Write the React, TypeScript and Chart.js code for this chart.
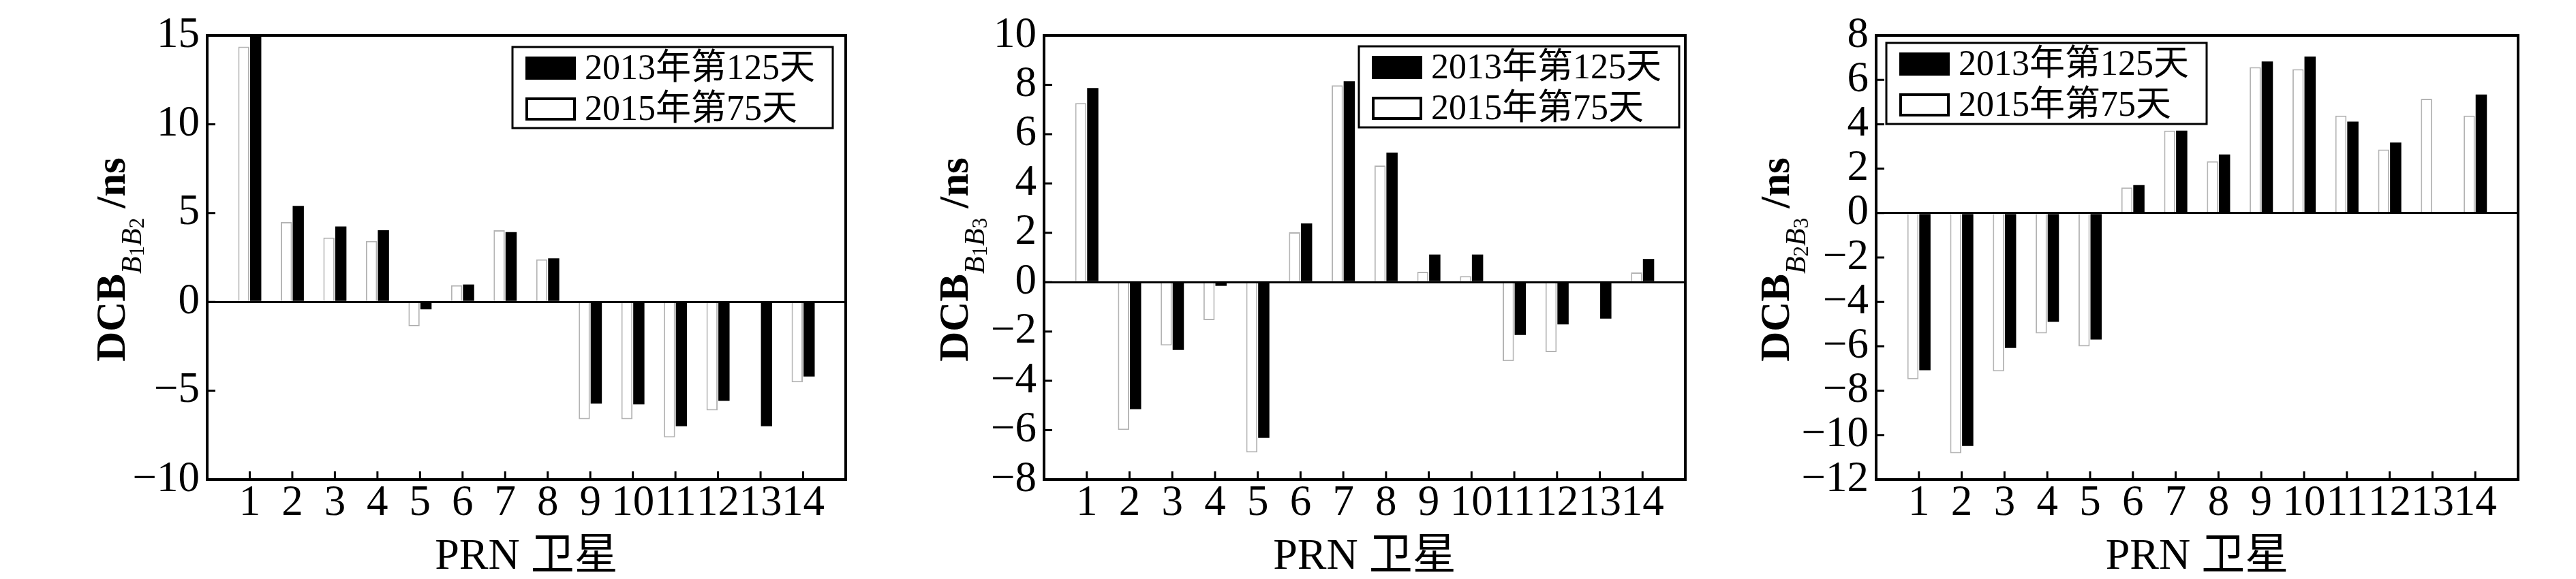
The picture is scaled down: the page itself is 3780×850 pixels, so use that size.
import React, { useEffect, useRef } from 'react';
import { Chart, registerables } from 'chart.js';

Chart.register(...registerables);

// ---------- data ----------
const PRN = [1, 2, 3, 4, 5, 6, 7, 8, 9, 10, 11, 12, 13, 14];
const SERIES_2013 = '2013年第125天';
const SERIES_2015 = '2015年第75天';
const X_TITLE = 'PRN 卫星';

const B1B2_2013 = [15.3, 5.4, 4.24, 4.03, -0.42, 0.98, 3.93, 2.45, -5.72, -5.76, -7.0, -5.57, -7.0, -4.2];
const B1B2_2015 = [14.37, 4.49, 3.62, 3.43, -1.37, 0.94, 4.03, 2.39, -6.61, -6.61, -7.63, -6.11, null, -4.53];

const B1B3_2013 = [7.87, -5.15, -2.75, -0.15, -6.31, 2.38, 8.14, 5.25, 1.12, 1.12, -2.14, -1.71, -1.48, 0.94];
const B1B3_2015 = [7.26, -5.99, -2.57, -1.54, -6.9, 2.02, 7.98, 4.73, 0.42, 0.25, -3.2, -2.84, null, 0.39];

const B2B3_2013 = [-7.08, -10.49, -6.07, -4.9, -5.7, 1.26, 3.71, 2.64, 6.83, 7.05, 4.12, 3.18, null, 5.34];
const B2B3_2015 = [-7.48, -10.82, -7.13, -5.42, -6.0, 1.15, 3.71, 2.33, 6.57, 6.48, 4.39, 2.86, 5.15, 4.39];

const B1B2_Y = { min: -10, max: 15, step: 5 };
const B1B3_Y = { min: -8, max: 10, step: 2 };
const B2B3_Y = { min: -12, max: 8, step: 2 };

const B1B2_SUB = ['B', '1', 'B', '2'];
const B1B3_SUB = ['B', '1', 'B', '3'];
const B2B3_SUB = ['B', '2', 'B', '3'];

// ---------- layout / style ----------
const FAMILY = '"Liberation Serif", "Noto Sans CJK SC", serif';
const CANVAS_W = 1260;
const CANVAS_H = 850;
const TICK_SIZE = 63;

const PANELS = [
  { canvasLeft: 0, plotLeft: 304, padRight: 19, y: B1B2_Y, sub: B1B2_SUB, a: B1B2_2013, b: B1B2_2015, titleOffset: 121, legend: { side: 'right', inset: 19, top: 17 } },
  { canvasLeft: 1260, plotLeft: 272, padRight: 47, y: B1B3_Y, sub: B1B3_SUB, a: B1B3_2013, b: B1B3_2015, titleOffset: 112, legend: { side: 'right', inset: 9, top: 16 } },
  { canvasLeft: 2520, plotLeft: 233, padRight: 85, y: B2B3_Y, sub: B2B3_SUB, a: B2B3_2013, b: B2B3_2015, titleOffset: 128, legend: { side: 'left', inset: 15, top: 11 } },
];

const framePlugin = {
  id: 'frameTicks',
  afterDatasetsDraw(chart: any) {
    const { ctx, chartArea: a } = chart;
    const xs = chart.scales.x;
    const ys = chart.scales.y;
    ctx.save();
    ctx.strokeStyle = '#000';
    ctx.lineWidth = 3;
    ctx.beginPath();
    xs.ticks.forEach((t: any) => {
      const px = xs.getPixelForValue(t.value);
      ctx.moveTo(px, a.bottom);
      ctx.lineTo(px, a.bottom - 12);
    });
    ys.ticks.forEach((t: any) => {
      const py = ys.getPixelForValue(t.value);
      ctx.moveTo(a.left, py);
      ctx.lineTo(a.left + 12, py);
    });
    ctx.stroke();
    ctx.lineWidth = 4;
    ctx.strokeRect(a.left, a.top, a.right - a.left, a.bottom - a.top);
    ctx.restore();
  },
};

const legendPlugin = {
  id: 'boxLegend',
  afterDraw(chart: any, _args: any, opts: any) {
    const { ctx, chartArea: a } = chart;
    const w = 470;
    const h = 119;
    const left = opts.side === 'left' ? a.left + opts.inset : a.right - opts.inset - w;
    const top = a.top + opts.top;
    ctx.save();
    ctx.fillStyle = '#fff';
    ctx.fillRect(left, top, w, h);
    ctx.lineWidth = 3;
    ctx.strokeStyle = '#000';
    ctx.strokeRect(left, top, w, h);
    const order = [1, 0];
    order.forEach((di, row) => {
      const ds = chart.data.datasets[di];
      const cy = top + 31 + row * 60;
      ctx.fillStyle = ds.backgroundColor;
      ctx.fillRect(left + 19, cy - 17, 74, 34);
      ctx.lineWidth = 4;
      ctx.strokeStyle = '#000';
      ctx.strokeRect(left + 21, cy - 15, 70, 30);
      ctx.fillStyle = '#000';
      ctx.font = `52px ${FAMILY}`;
      ctx.textBaseline = 'middle';
      ctx.textAlign = 'left';
      ctx.fillText(ds.label, left + 106, cy + 2);
    });
    ctx.restore();
  },
};

const yTitlePlugin = {
  id: 'richYTitle',
  afterDraw(chart: any, _args: any, opts: any) {
    const { ctx, chartArea: a } = chart;
    const segs = opts.segments as { text: string; font: string; dy: number; gap?: number }[];
    ctx.save();
    ctx.translate(a.left - opts.offset, (a.top + a.bottom) / 2 + 3);
    ctx.rotate(-Math.PI / 2);
    let total = 0;
    segs.forEach((s) => {
      ctx.font = s.font;
      total += ctx.measureText(s.text).width + (s.gap || 0);
    });
    let x = -total / 2;
    ctx.fillStyle = '#000';
    ctx.textBaseline = 'alphabetic';
    ctx.textAlign = 'left';
    segs.forEach((s) => {
      ctx.font = s.font;
      x += s.gap || 0;
      ctx.fillText(s.text, x, s.dy);
      x += ctx.measureText(s.text).width;
    });
    ctx.restore();
  },
};

function titleSegments(sub: string[]) {
  return [
    { text: 'DCB', font: `bold 61px ${FAMILY}`, dy: 0 },
    { text: sub[0], font: `italic 42px ${FAMILY}`, dy: 24 },
    { text: sub[1], font: `31px ${FAMILY}`, dy: 28 },
    { text: sub[2], font: `italic 42px ${FAMILY}`, dy: 24 },
    { text: sub[3], font: `31px ${FAMILY}`, dy: 28 },
    { text: '/ns', font: `bold 61px ${FAMILY}`, dy: 0, gap: 14 },
  ];
}

function Panel({ cfg }: { cfg: any }) {
  const ref = useRef<HTMLCanvasElement>(null);
  useEffect(() => {
    if (!ref.current) return;
    Chart.defaults.font.family = FAMILY;
    Chart.defaults.color = '#000';
    const chart = new Chart(ref.current, {
      type: 'bar',
      data: {
        datasets: [
          {
            label: SERIES_2015,
            data: PRN.map((p, i) => ({ x: p, y: cfg.b[i] })),
            backgroundColor: '#ffffff',
            borderColor: '#b4b4b4',
            borderWidth: 2,
            categoryPercentage: 0.56,
            barPercentage: 0.94,
          },
          {
            label: SERIES_2013,
            data: PRN.map((p, i) => ({ x: p, y: cfg.a[i] })),
            backgroundColor: '#000000',
            borderColor: '#000000',
            borderWidth: 0,
            categoryPercentage: 0.56,
            barPercentage: 0.94,
          },
        ] as any,
      },
      options: {
        animation: false,
        responsive: false,
        devicePixelRatio: 1,
        events: [],
        layout: { padding: { left: 0, top: 52, right: cfg.padRight, bottom: 0 } },
        plugins: {
          legend: { display: false },
          tooltip: { enabled: false },
          boxLegend: cfg.legend,
          richYTitle: { offset: cfg.titleOffset, segments: titleSegments(cfg.sub) },
        } as any,
        scales: {
          x: {
            type: 'linear',
            min: 0,
            max: 15,
            offset: false,
            afterBuildTicks: (s: any) => {
              s.ticks = PRN.map((v) => ({ value: v }));
            },
            afterFit: (s: any) => {
              s.height = CANVAS_H - 704;
            },
            ticks: {
              autoSkip: false,
              maxRotation: 0,
              minRotation: 0,
              padding: 4,
              color: '#000',
              font: { size: TICK_SIZE, lineHeight: 1 },
            },
            grid: { display: false, drawTicks: false, offset: false },
            border: { display: false },
            title: {
              display: true,
              text: X_TITLE,
              color: '#000',
              font: { size: 64, lineHeight: 1 },
              padding: { top: 0, bottom: 0 },
            },
          },
          y: {
            min: cfg.y.min,
            max: cfg.y.max,
            afterFit: (s: any) => {
              s.width = cfg.plotLeft;
            },
            ticks: {
              stepSize: cfg.y.step,
              autoSkip: false,
              padding: 11,
              color: '#000',
              font: { size: TICK_SIZE, lineHeight: 1 },
              callback: (v: any) => String(v).replace('-', '\u2212'),
            },
            grid: {
              drawTicks: false,
              lineWidth: 3,
              color: (c: any) => (c.tick && c.tick.value === 0 ? '#000000' : 'rgba(0,0,0,0)'),
            },
            border: { display: false },
          },
        } as any,
      },
      plugins: [framePlugin, legendPlugin, yTitlePlugin],
    });
    return () => chart.destroy();
  }, [cfg]);
  return (
    <canvas
      ref={ref}
      width={CANVAS_W}
      height={CANVAS_H}
      style={{ position: 'absolute', left: cfg.canvasLeft, top: 0, width: CANVAS_W, height: CANVAS_H }}
    />
  );
}

export default function App() {
  return (
    <div style={{ position: 'absolute', left: 0, top: 0, width: 3780, height: 850, background: '#fff', overflow: 'hidden' }}>
      {PANELS.map((p, i) => (
        <Panel key={i} cfg={p} />
      ))}
    </div>
  );
}
